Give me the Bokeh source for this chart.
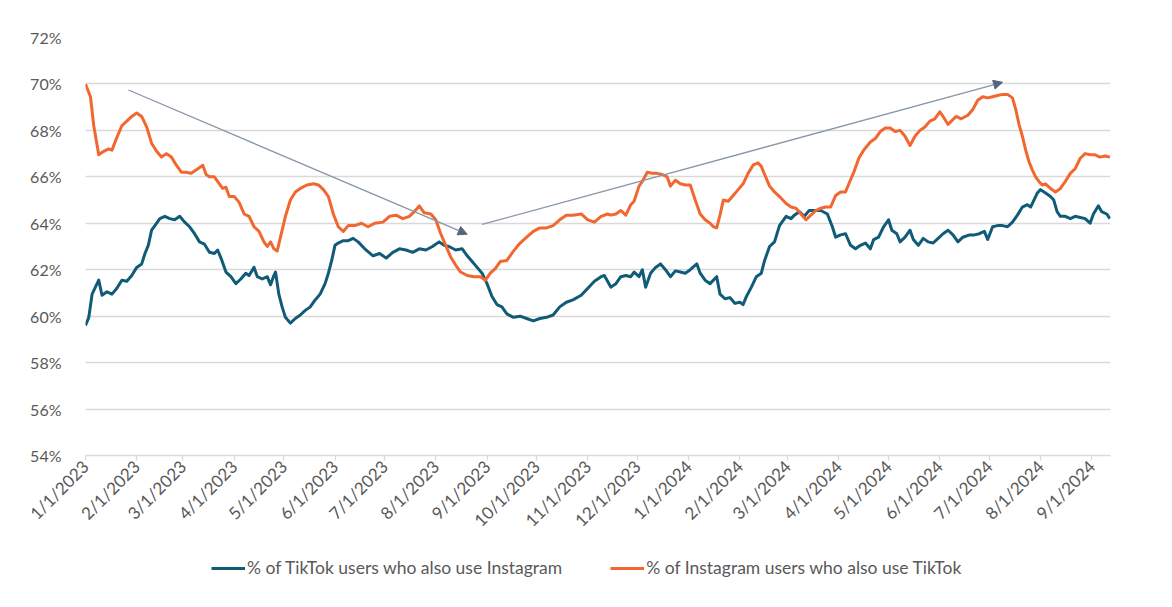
import math
import pandas as pd
from bokeh.plotting import figure
from bokeh.layouts import column
from bokeh.models import (ColumnDataSource, FixedTicker, Legend, LegendItem, Arrow,
                          NormalHead, PrintfTickFormatter, Range1d)
from bokeh.embed import file_html
from bokeh.resources import INLINE

# ---------------- data ----------------
orange_dates = [
    "2023-01-01", "2023-01-04", "2023-01-06", "2023-01-09", "2023-01-12", "2023-01-15", "2023-01-17",
    "2023-01-20", "2023-01-23", "2023-01-26", "2023-01-29", "2023-02-01", "2023-02-04", "2023-02-07",
    "2023-02-10", "2023-02-13", "2023-02-16", "2023-02-19", "2023-02-22", "2023-02-25", "2023-02-28",
    "2023-03-03", "2023-03-06", "2023-03-10", "2023-03-13", "2023-03-15", "2023-03-17", "2023-03-20",
    "2023-03-23", "2023-03-25", "2023-03-27", "2023-03-29", "2023-04-01", "2023-04-04", "2023-04-07",
    "2023-04-10", "2023-04-13", "2023-04-16", "2023-04-19", "2023-04-21", "2023-04-23", "2023-04-25",
    "2023-04-27", "2023-04-29", "2023-05-02", "2023-05-05", "2023-05-08", "2023-05-11", "2023-05-15",
    "2023-05-19", "2023-05-22", "2023-05-25", "2023-05-28", "2023-05-31", "2023-06-03", "2023-06-06",
    "2023-06-09", "2023-06-13", "2023-06-17", "2023-06-21", "2023-06-25", "2023-06-30", "2023-07-04",
    "2023-07-08", "2023-07-12", "2023-07-16", "2023-07-19", "2023-07-22", "2023-07-25", "2023-07-29",
    "2023-08-01", "2023-08-04", "2023-08-07", "2023-08-10", "2023-08-13", "2023-08-16", "2023-08-20",
    "2023-08-24", "2023-08-28", "2023-08-31", "2023-09-03", "2023-09-06", "2023-09-09", "2023-09-13",
    "2023-09-17", "2023-09-21", "2023-09-25", "2023-09-29", "2023-10-03", "2023-10-07", "2023-10-11",
    "2023-10-15", "2023-10-19", "2023-10-23", "2023-10-28", "2023-11-01", "2023-11-05", "2023-11-09",
    "2023-11-13", "2023-11-15", "2023-11-18", "2023-11-21", "2023-11-24", "2023-11-27", "2023-11-29",
    "2023-12-02", "2023-12-04", "2023-12-07", "2023-12-10", "2023-12-13", "2023-12-16", "2023-12-19",
    "2023-12-21", "2023-12-24", "2023-12-27", "2023-12-30", "2024-01-02", "2024-01-05", "2024-01-08",
    "2024-01-11", "2024-01-14", "2024-01-16", "2024-01-18", "2024-01-20", "2024-01-22", "2024-01-25",
    "2024-01-28", "2024-01-31", "2024-02-03", "2024-02-06", "2024-02-09", "2024-02-12", "2024-02-14",
    "2024-02-16", "2024-02-19", "2024-02-22", "2024-02-25", "2024-02-29", "2024-03-03", "2024-03-06",
    "2024-03-09", "2024-03-12", "2024-03-15", "2024-03-18", "2024-03-21", "2024-03-24", "2024-03-27",
    "2024-03-30", "2024-04-02", "2024-04-05", "2024-04-07", "2024-04-10", "2024-04-13", "2024-04-16",
    "2024-04-20", "2024-04-23", "2024-04-26", "2024-04-29", "2024-05-02", "2024-05-05", "2024-05-08",
    "2024-05-11", "2024-05-14", "2024-05-17", "2024-05-20", "2024-05-23", "2024-05-26", "2024-05-29",
    "2024-06-01", "2024-06-03", "2024-06-06", "2024-06-08", "2024-06-11", "2024-06-14", "2024-06-18",
    "2024-06-21", "2024-06-24", "2024-06-27", "2024-06-30", "2024-07-03", "2024-07-06", "2024-07-09",
    "2024-07-12", "2024-07-15", "2024-07-17", "2024-07-19", "2024-07-21", "2024-07-23", "2024-07-25",
    "2024-07-27", "2024-07-29", "2024-07-31", "2024-08-02", "2024-08-04", "2024-08-07", "2024-08-10",
    "2024-08-13", "2024-08-16", "2024-08-19", "2024-08-22", "2024-08-25", "2024-08-28", "2024-08-31",
    "2024-09-03", "2024-09-06", "2024-09-09", "2024-09-12",
]
orange_values = [
    70.0, 69.45, 68.2, 66.95, 67.1, 67.2, 67.15,
    67.7, 68.2, 68.4, 68.6, 68.75, 68.6, 68.15,
    67.45, 67.1, 66.85, 67.0, 66.85, 66.5, 66.2,
    66.2, 66.15, 66.35, 66.5, 66.1, 66.0, 66.0,
    65.7, 65.5, 65.55, 65.15, 65.15, 64.9, 64.4,
    64.3, 63.85, 63.65, 63.2, 63.0, 63.2, 62.9,
    62.8, 63.4, 64.3, 65.0, 65.35, 65.5, 65.65,
    65.7, 65.65, 65.45, 65.15, 64.4, 63.85, 63.65,
    63.9, 63.9, 64.0, 63.85, 64.0, 64.05, 64.3,
    64.35, 64.2, 64.3, 64.5, 64.75, 64.45, 64.4,
    64.15, 63.55, 63.05, 62.55, 62.2, 61.9, 61.75,
    61.7, 61.7, 61.55, 61.85, 62.05, 62.35, 62.4,
    62.8, 63.15, 63.4, 63.65, 63.8, 63.8, 63.9,
    64.15, 64.35, 64.35, 64.4, 64.15, 64.05, 64.3,
    64.4, 64.35, 64.4, 64.55, 64.35, 64.8, 64.95,
    65.6, 65.8, 66.2, 66.15, 66.15, 66.1, 66.0,
    65.6, 65.85, 65.7, 65.65, 65.65, 65.0, 64.4,
    64.15, 64.0, 63.85, 63.8, 64.35, 65.0, 64.95,
    65.2, 65.45, 65.7, 66.15, 66.5, 66.6, 66.45,
    66.1, 65.6, 65.35, 65.15, 64.85, 64.7, 64.65,
    64.4, 64.15, 64.35, 64.55, 64.65, 64.7, 64.7,
    65.2, 65.35, 65.35, 65.7, 66.2, 66.8, 67.15,
    67.5, 67.65, 67.95, 68.1, 68.1, 67.95, 68.0,
    67.75, 67.35, 67.75, 68.0, 68.15, 68.4, 68.5,
    68.8, 68.6, 68.25, 68.4, 68.6, 68.5, 68.65,
    68.9, 69.3, 69.45, 69.4, 69.45, 69.5, 69.55,
    69.55, 69.4, 68.9, 68.25, 67.75, 67.15, 66.65,
    66.3, 66.0, 65.8, 65.65, 65.7, 65.5, 65.35,
    65.5, 65.8, 66.15, 66.35, 66.8, 67.0, 66.95,
    66.95, 66.85, 66.9, 66.85,
]

blue_dates = [
    "2023-01-01", "2023-01-03", "2023-01-05", "2023-01-07", "2023-01-09", "2023-01-11", "2023-01-14",
    "2023-01-17", "2023-01-20", "2023-01-23", "2023-01-26", "2023-01-29", "2023-02-01", "2023-02-04",
    "2023-02-06", "2023-02-08", "2023-02-10", "2023-02-12", "2023-02-15", "2023-02-18", "2023-02-21",
    "2023-02-24", "2023-02-27", "2023-03-02", "2023-03-05", "2023-03-08", "2023-03-11", "2023-03-14",
    "2023-03-17", "2023-03-20", "2023-03-22", "2023-03-24", "2023-03-27", "2023-03-30", "2023-04-02",
    "2023-04-05", "2023-04-08", "2023-04-10", "2023-04-13", "2023-04-15", "2023-04-18", "2023-04-21",
    "2023-04-23", "2023-04-25", "2023-04-26", "2023-04-28", "2023-04-30", "2023-05-02", "2023-05-05",
    "2023-05-08", "2023-05-11", "2023-05-14", "2023-05-17", "2023-05-20", "2023-05-23", "2023-05-26",
    "2023-05-28", "2023-05-30", "2023-06-01", "2023-06-03", "2023-06-06", "2023-06-09", "2023-06-12",
    "2023-06-15", "2023-06-19", "2023-06-24", "2023-06-28", "2023-07-02", "2023-07-06", "2023-07-10",
    "2023-07-14", "2023-07-18", "2023-07-22", "2023-07-26", "2023-07-30", "2023-08-03", "2023-08-06",
    "2023-08-09", "2023-08-13", "2023-08-17", "2023-08-20", "2023-08-23", "2023-08-26", "2023-08-29",
    "2023-09-01", "2023-09-04", "2023-09-07", "2023-09-10", "2023-09-13", "2023-09-17", "2023-09-21",
    "2023-09-25", "2023-09-29", "2023-10-03", "2023-10-07", "2023-10-11", "2023-10-15", "2023-10-19",
    "2023-10-23", "2023-10-28", "2023-11-01", "2023-11-05", "2023-11-09", "2023-11-11", "2023-11-15",
    "2023-11-18", "2023-11-21", "2023-11-24", "2023-11-27", "2023-11-29", "2023-12-02", "2023-12-04",
    "2023-12-06", "2023-12-09", "2023-12-12", "2023-12-15", "2023-12-18", "2023-12-21", "2023-12-24",
    "2023-12-27", "2023-12-30", "2024-01-02", "2024-01-06", "2024-01-08", "2024-01-11", "2024-01-14",
    "2024-01-18", "2024-01-20", "2024-01-23", "2024-01-26", "2024-01-29", "2024-02-01", "2024-02-03",
    "2024-02-05", "2024-02-08", "2024-02-11", "2024-02-14", "2024-02-16", "2024-02-19", "2024-02-22",
    "2024-02-25", "2024-02-29", "2024-03-03", "2024-03-05", "2024-03-08", "2024-03-11", "2024-03-14",
    "2024-03-17", "2024-03-21", "2024-03-25", "2024-03-28", "2024-03-30", "2024-04-02", "2024-04-05",
    "2024-04-08", "2024-04-11", "2024-04-14", "2024-04-17", "2024-04-20", "2024-04-22", "2024-04-25",
    "2024-04-28", "2024-05-01", "2024-05-03", "2024-05-06", "2024-05-08", "2024-05-11", "2024-05-14",
    "2024-05-16", "2024-05-19", "2024-05-22", "2024-05-25", "2024-05-28", "2024-05-31", "2024-06-03",
    "2024-06-06", "2024-06-09", "2024-06-12", "2024-06-15", "2024-06-19", "2024-06-22", "2024-06-25",
    "2024-06-28", "2024-06-30", "2024-07-03", "2024-07-06", "2024-07-09", "2024-07-12", "2024-07-15",
    "2024-07-18", "2024-07-21", "2024-07-24", "2024-07-26", "2024-07-28", "2024-07-30", "2024-08-01",
    "2024-08-04", "2024-08-07", "2024-08-09", "2024-08-11", "2024-08-13", "2024-08-16", "2024-08-19",
    "2024-08-22", "2024-08-25", "2024-08-28", "2024-08-31", "2024-09-02", "2024-09-05", "2024-09-07",
    "2024-09-10", "2024-09-12",
]
blue_values = [
    59.6, 59.95, 60.95, 61.25, 61.55, 60.9, 61.05,
    60.95, 61.2, 61.55, 61.5, 61.75, 62.1, 62.25,
    62.7, 63.05, 63.7, 63.9, 64.2, 64.3, 64.2,
    64.15, 64.3, 64.05, 63.85, 63.55, 63.2, 63.1,
    62.75, 62.7, 62.85, 62.5, 61.9, 61.7, 61.4,
    61.6, 61.85, 61.75, 62.1, 61.7, 61.6, 61.7,
    61.35, 61.75, 61.9, 60.95, 60.4, 59.95, 59.7,
    59.9, 60.05, 60.25, 60.4, 60.7, 60.95, 61.4,
    61.85, 62.4, 63.05, 63.15, 63.25, 63.25, 63.35,
    63.2, 62.9, 62.6, 62.7, 62.5, 62.75, 62.9,
    62.85, 62.75, 62.9, 62.85, 63.0, 63.2, 63.05,
    63.0, 62.85, 62.9, 62.6, 62.35, 62.1, 61.85,
    61.4, 60.85, 60.5, 60.4, 60.1, 59.95, 60.0,
    59.9, 59.8, 59.9, 59.95, 60.05, 60.4, 60.6,
    60.7, 60.9, 61.2, 61.5, 61.7, 61.75, 61.25,
    61.4, 61.7, 61.75, 61.7, 61.9, 61.7, 62.0,
    61.25, 61.85, 62.1, 62.25, 62.0, 61.7, 61.95,
    61.9, 61.85, 62.0, 62.25, 61.85, 61.55, 61.4,
    61.7, 60.95, 60.75, 60.8, 60.55, 60.6, 60.5,
    60.85, 61.25, 61.7, 61.85, 62.4, 63.0, 63.2,
    63.9, 64.3, 64.2, 64.35, 64.5, 64.3, 64.55,
    64.55, 64.55, 64.4, 63.85, 63.4, 63.5, 63.55,
    63.05, 62.9, 63.05, 63.15, 62.9, 63.3, 63.4,
    63.85, 64.15, 63.7, 63.55, 63.2, 63.4, 63.7,
    63.3, 63.05, 63.35, 63.2, 63.15, 63.35, 63.55,
    63.7, 63.5, 63.2, 63.4, 63.5, 63.5, 63.55,
    63.65, 63.3, 63.85, 63.9, 63.9, 63.85, 64.05,
    64.35, 64.7, 64.8, 64.7, 65.0, 65.3, 65.45,
    65.3, 65.15, 65.0, 64.5, 64.3, 64.3, 64.2,
    64.3, 64.25, 64.2, 64.0, 64.4, 64.75, 64.5,
    64.4, 64.2,
]

series_labels = ["% of TikTok users who also use Instagram",
                 "% of Instagram users who also use TikTok"]

tick_dates = ["2023-01-01", "2023-02-01", "2023-03-01", "2023-04-01", "2023-05-01", "2023-06-01",
              "2023-07-01", "2023-08-01", "2023-09-01", "2023-10-01", "2023-11-01", "2023-12-01",
              "2024-01-01", "2024-02-01", "2024-03-01", "2024-04-01", "2024-05-01", "2024-06-01",
              "2024-07-01", "2024-08-01", "2024-09-01"]
tick_labels = ["1/1/2023", "2/1/2023", "3/1/2023", "4/1/2023", "5/1/2023", "6/1/2023",
               "7/1/2023", "8/1/2023", "9/1/2023", "10/1/2023", "11/1/2023", "12/1/2023",
               "1/1/2024", "2/1/2024", "3/1/2024", "4/1/2024", "5/1/2024", "6/1/2024",
               "7/1/2024", "8/1/2024", "9/1/2024"]
y_ticks = [54, 56, 58, 60, 62, 64, 66, 68, 70, 72]

# trend arrows (start date, start value, end date, end value)
arrow_start_dates = ["2023-01-27", "2023-08-29"]
arrow_start_values = [69.74, 63.95]
arrow_end_dates = ["2023-08-20", "2024-07-09"]
arrow_end_values = [63.53, 70.07]

x_start_date = "2023-01-01"
x_end_date = "2024-09-12 08:00"

# ---------------- styling ----------------
BLUE = "#0f5b78"
ORANGE = "#f2672f"
GRID = "#d9d9d9"
TEXT = "#595959"
FONT = "Lato"


def ms(d):
    return int(pd.Timestamp(d).value // 10**6)


src_blue = ColumnDataSource(dict(x=pd.to_datetime(blue_dates), y=blue_values))
src_orange = ColumnDataSource(dict(x=pd.to_datetime(orange_dates), y=orange_values))

p = figure(x_axis_type="datetime", frame_width=1025, frame_height=418,
           output_backend="svg", toolbar_location=None,
           x_range=Range1d(ms(x_start_date), ms(x_end_date)), y_range=Range1d(54, 72),
           min_border_left=85, min_border_top=37, min_border_right=40, min_border_bottom=95)
p.outline_line_color = None
p.background_fill_color = "white"
p.border_fill_color = "white"

r_blue = p.line("x", "y", source=src_blue, line_color=BLUE, line_width=3, line_join="round")
r_orange = p.line("x", "y", source=src_orange, line_color=ORANGE, line_width=3, line_join="round")

for xs, ys, xe, ye in zip(arrow_start_dates, arrow_start_values, arrow_end_dates, arrow_end_values):
    p.add_layout(Arrow(end=NormalHead(size=9, fill_color="#56657a", line_color="#56657a"),
                       x_start=ms(xs), y_start=ys, x_end=ms(xe), y_end=ye,
                       line_color="#8796a8", line_width=1.3))

# x axis
tick_ms = [ms(d) for d in tick_dates]
xa = p.xaxis[0]
xa.ticker = FixedTicker(ticks=tick_ms)
xa.major_label_overrides = {t: lab for t, lab in zip(tick_ms, tick_labels)}
xa.major_label_orientation = math.pi / 4
xa.axis_line_color = GRID
xa.axis_line_width = 1.5
xa.major_tick_line_color = GRID
xa.major_tick_line_width = 1.2
xa.major_tick_out = 5
xa.major_tick_in = 0
xa.minor_tick_line_color = None
xa.major_label_text_font = FONT
xa.major_label_text_font_size = "17px"
xa.major_label_text_color = TEXT
xa.major_label_standoff = 3

# y axis
ya = p.yaxis[0]
ya.ticker = FixedTicker(ticks=y_ticks)
ya.formatter = PrintfTickFormatter(format="%d%%")
ya.axis_line_color = None
ya.major_tick_line_color = None
ya.minor_tick_line_color = None
ya.major_label_text_font = FONT
ya.major_label_text_font_size = "16px"
ya.major_label_text_color = TEXT
ya.major_label_standoff = 18

p.xgrid.grid_line_color = None
p.ygrid.grid_line_color = GRID
p.ygrid.grid_line_width = 1.5

# legend strip under the chart: its own small canvas whose key renderers reuse the
# series sources (their data lies outside this strip's ranges, so only the legend shows)
leg = figure(width=1150, height=40, output_backend="svg", toolbar_location=None,
             x_range=Range1d(0, 1), y_range=Range1d(0, 1), min_border=0,
             x_axis_location=None, y_axis_location=None)
leg.outline_line_color = None
leg.grid.visible = False
k_blue = leg.line("x", "y", source=src_blue, line_color=BLUE, line_width=3)
k_orange = leg.line("x", "y", source=src_orange, line_color=ORANGE, line_width=3)
legend = Legend(items=[LegendItem(label=series_labels[0], renderers=[k_blue]),
                       LegendItem(label=series_labels[1], renderers=[k_orange])],
                orientation="horizontal", location=(126, 12),
                border_line_color=None, background_fill_alpha=0,
                label_text_font=FONT, label_text_font_size="17.5px", label_text_color=TEXT,
                glyph_width=34, glyph_height=16, label_standoff=2, spacing=48,
                padding=0, margin=0)
leg.add_layout(legend)

layout = column(p, leg, spacing=0)
open("out.html", "w").write(file_html(layout, INLINE))
